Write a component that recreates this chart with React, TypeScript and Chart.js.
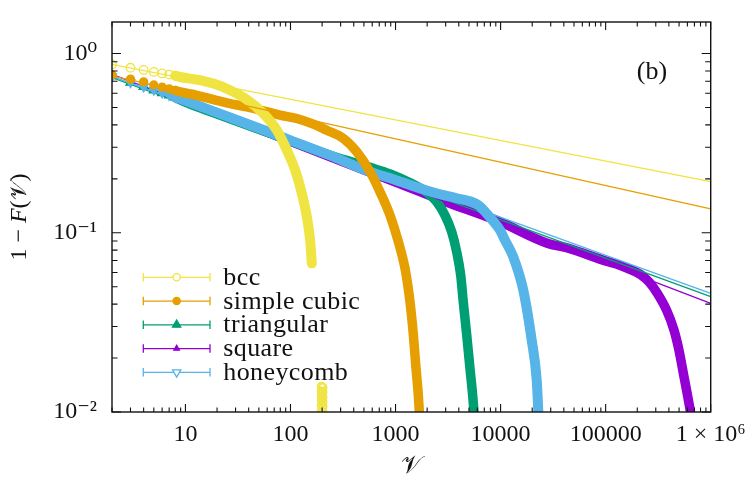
import React, { useEffect, useRef } from "react";
import { Chart, registerables } from "chart.js";
Chart.register(...registerables);

// ---------------- data ----------------
const seriesNames = ["bcc", "simple cubic", "triangular", "square", "honeycomb"];
const seriesColors = ["#f0e442", "#e69f00", "#009e73", "#9400d3", "#56b4e9"];

const bccV = [2, 3, 4, 5, 6, 7, 8, 8.9, 12.8, 18.5, 26.6, 38.4, 55.2, 74.1, 92.3, 110.7, 128.2, 143, 153.8, 159.6];
const bccP = [0.87, 0.833, 0.81, 0.79, 0.775, 0.763, 0.752, 0.74, 0.716, 0.68, 0.624, 0.554, 0.463, 0.3735, 0.289, 0.224, 0.166, 0.123, 0.091, 0.0675];
const bccTailV = [197, 197, 197, 197, 197, 197, 203, 203, 203, 203, 203, 203];
const bccTailP = [0.0139, 0.0131, 0.0123, 0.0116, 0.0109, 0.0102, 0.0137, 0.0129, 0.0121, 0.0114, 0.0107, 0.01];

const scV = [2, 3, 4, 5, 6, 7, 8, 8.9, 12.8, 18.5, 26.6, 38.4, 55.2, 79.6, 114.8, 165, 221, 319, 427, 572, 712, 887, 1064, 1232, 1374, 1477, 1567, 1648, 1684];
const scP = [0.76, 0.72, 0.695, 0.668, 0.65, 0.635, 0.622, 0.611, 0.585, 0.554, 0.526, 0.504, 0.479, 0.453, 0.434, 0.4035, 0.3735, 0.336, 0.283, 0.219, 0.169, 0.125, 0.089, 0.063, 0.041, 0.027, 0.0175, 0.0124, 0.01];

const triV = [2, 3, 4, 5, 6, 7, 8, 10, 20, 50, 100, 250, 572, 887, 1374, 1982, 2466, 2958, 3428, 3823, 4171, 4416, 4757, 5112, 5421, 5585];
const triP = [0.75, 0.69, 0.652, 0.625, 0.603, 0.585, 0.57, 0.535, 0.46, 0.378, 0.326, 0.268, 0.232, 0.213, 0.19, 0.168, 0.149, 0.125, 0.101, 0.078, 0.058, 0.041, 0.027, 0.0175, 0.0124, 0.01];

const sqV = [2, 3, 4, 5, 6, 7, 8, 10, 20, 50, 100, 300, 1000, 3000, 9890, 27800, 42600, 103500, 127000, 160000, 215000, 260000, 309000, 380000, 446000, 500000, 556000, 600000, 635000, 645000];
const sqP = [0.745, 0.685, 0.65, 0.622, 0.6, 0.583, 0.568, 0.54, 0.464, 0.38, 0.324, 0.252, 0.192, 0.149, 0.115, 0.0875, 0.0825, 0.0692, 0.067, 0.0635, 0.0585, 0.053, 0.0461, 0.037, 0.0288, 0.022, 0.0158, 0.0125, 0.0104, 0.0098];

const hcV = [2, 3, 4, 5, 6, 7, 8, 10, 20, 50, 100, 238, 494, 1026, 2128, 3000, 4416, 5117, 6200, 7380, 8500, 9880, 11000, 13190, 16440, 19770, 22060, 22850];
const hcP = [0.745, 0.69, 0.652, 0.626, 0.604, 0.586, 0.571, 0.545, 0.468, 0.383, 0.328, 0.27, 0.226, 0.196, 0.17, 0.161, 0.153, 0.15, 0.142, 0.128, 0.116, 0.1035, 0.091, 0.0734, 0.0479, 0.0252, 0.0151, 0.0102];

// power-law fits (end points at the left and right edges)
const fitV = [2, 1000000];
const bccFit = [0.87, 0.193];
const scFit = [0.75, 0.136];
const triFit = [0.735, 0.044];
const sqFit = [0.765, 0.0404];
const hcFit = [0.745, 0.0459];

const xTicks = [10, 100, 1000, 10000, 100000, 1000000];
const xTickLabels = ["10", "100", "1000", "10000", "100000", "1 × 10⁶"];
const yTicks = [0.01, 0.1, 1];
const yTickLabels = ["10⁻²", "10⁻¹", "10⁰"];
const panelLabel = "(b)";

// ---------------- styling ----------------
const SERIF = "'Liberation Serif', 'DejaVu Serif', serif";
const MATH = "'Liberation Serif', 'DejaVu Serif', 'DejaVu Sans', 'Noto Sans', serif";
const INK = "#111";

type Marker = { style: string; r: number; filled: boolean; rot: number; band: number; order: number };
const markers: Marker[] = [
  { style: "circle", r: 4.3, filled: false, rot: 0, band: 10, order: 1 },
  { style: "circle", r: 4.0, filled: true, rot: 0, band: 9.5, order: 2 },
  { style: "triangle", r: 5.2, filled: true, rot: 0, band: 9.5, order: 5 },
  { style: "triangle", r: 3.4, filled: true, rot: 0, band: 9.5, order: 6 },
  { style: "triangle", r: 5.2, filled: true, rot: 180, band: 10, order: 3 },
];
const fitOrder = [0, 0, 4.1, 4.2, 4.0];
const seriesV = [bccV, scV, triV, sqV, hcV];
const seriesP = [bccP, scP, triP, sqP, hcP];
const seriesFit = [bccFit, scFit, triFit, sqFit, hcFit];

const pts = (xs: number[], ys: number[]) => xs.map((x, i) => ({ x, y: ys[i] }));

function buildDatasets() {
  const ds: any[] = [];
  seriesNames.forEach((name, i) => {
    const m = markers[i];
    const c = seriesColors[i];
    const all = pts(seriesV[i], seriesP[i]);
    ds.push({
      label: name + " fit",
      data: pts(fitV, seriesFit[i]),
      borderColor: c,
      borderWidth: 1.3,
      pointRadius: 0,
      order: fitOrder[i],
      clip: 0,
    });
    ds.push({
      label: name,
      data: all.filter((p) => p.x >= 8),
      borderColor: c,
      borderWidth: m.band,
      borderCapStyle: "round",
      borderJoinStyle: "round",
      cubicInterpolationMode: "monotone",
      pointRadius: 0,
      order: m.order,
      clip: 0,
    });
    ds.push({
      label: name + " points",
      data: all.filter((p) => p.x <= 8),
      showLine: false,
      pointStyle: m.style,
      pointRadius: m.r,
      pointRotation: m.rot,
      pointBorderWidth: 1.3,
      pointBorderColor: c,
      pointBackgroundColor: m.filled ? c : "rgba(255,255,255,0)",
      order: m.order,
      clip: 0,
    });
  });
  ds.push({
    label: "bcc tail",
    data: pts(bccTailV, bccTailP),
    showLine: false,
    pointStyle: "circle",
    pointRadius: 3.8,
    pointBorderWidth: 1.8,
    pointBorderColor: seriesColors[0],
    pointBackgroundColor: "rgba(255,255,255,0)",
    order: 1,
    clip: 0,
  });
  return ds;
}

function markerPath(ctx: CanvasRenderingContext2D, style: string, x: number, y: number, r: number, rot: number) {
  ctx.beginPath();
  if (style === "circle") {
    ctx.arc(x, y, r, 0, Math.PI * 2);
  } else {
    let a = (rot * Math.PI) / 180;
    for (let k = 0; k < 3; k++) {
      const px = x + Math.sin(a) * r;
      const py = y - Math.cos(a) * r;
      if (k === 0) ctx.moveTo(px, py);
      else ctx.lineTo(px, py);
      a += (2 * Math.PI) / 3;
    }
    ctx.closePath();
  }
}

const framePlugin = {
  id: "frameTicks",
  afterDatasetsDraw(chart: any) {
    const { ctx, chartArea: a, scales } = chart;
    const xs = scales.x;
    const ys = scales.y;
    ctx.save();
    ctx.strokeStyle = INK;
    ctx.lineWidth = 1.1;
    ctx.beginPath();
    for (let e = 0; e <= 6; e++) {
      for (let k = 1; k <= 9; k++) {
        const v = k * Math.pow(10, e);
        if (v < 2 || v > 1000000) continue;
        const px = xs.getPixelForValue(v);
        const len = k === 1 ? 8 : 4.5;
        ctx.moveTo(px, a.bottom);
        ctx.lineTo(px, a.bottom - len);
        ctx.moveTo(px, a.top);
        ctx.lineTo(px, a.top + len);
      }
    }
    for (let e = -2; e <= 0; e++) {
      for (let k = 1; k <= 9; k++) {
        const v = k * Math.pow(10, e);
        if (v < 0.01 || v > 1.5) continue;
        const py = ys.getPixelForValue(v);
        const len = k === 1 ? 9 : 5.5;
        ctx.moveTo(a.left, py);
        ctx.lineTo(a.left + len, py);
        ctx.moveTo(a.right, py);
        ctx.lineTo(a.right - len, py);
      }
    }
    ctx.stroke();
    ctx.lineWidth = 1.4;
    ctx.strokeRect(a.left, a.top, a.right - a.left, a.bottom - a.top);

    // legend (gnuplot error-bar style samples)
    for (let i = 0; i < seriesNames.length; i++) {
      const y = a.top + 255.3 + i * 23.75;
      const x0 = a.left + 31.3;
      const x1 = a.left + 98;
      const xm = (x0 + x1) / 2;
      const c = seriesColors[i];
      const m = markers[i];
      ctx.strokeStyle = c;
      ctx.lineWidth = 1.3;
      ctx.beginPath();
      ctx.moveTo(x0, y);
      ctx.lineTo(x1, y);
      ctx.moveTo(x0, y - 4.3);
      ctx.lineTo(x0, y + 4.3);
      ctx.moveTo(x1, y - 4.3);
      ctx.lineTo(x1, y + 4.3);
      ctx.stroke();
      const lr = m.style === "circle" ? 3.6 : i === 3 ? 3.2 : 4.8;
      markerPath(ctx, m.style, xm, y, lr, m.rot);
      ctx.fillStyle = m.filled && i !== 4 ? c : "#fff";
      ctx.fill();
      ctx.stroke();
      ctx.fillStyle = INK;
      ctx.font = "26px " + SERIF;
      (ctx as any).letterSpacing = "0.4px";
      ctx.textAlign = "left";
      ctx.textBaseline = "alphabetic";
      ctx.fillText(seriesNames[i], a.left + 111.3, y + 7.6);
      (ctx as any).letterSpacing = "0px";
    }

    // panel label
    ctx.fillStyle = INK;
    ctx.font = "26px " + SERIF;
    ctx.textAlign = "center";
    ctx.textBaseline = "middle";
    ctx.fillText(panelLabel, a.right - 58.7, a.top + 50);

    // axis titles
    const xc = (a.left + a.right) / 2;
    ctx.font = "25px " + MATH;
    ctx.textAlign = "center";
    ctx.textBaseline = "middle";
    ctx.fillText("𝒱", xc, 466);

    const parts = [
      { t: "1 − ", f: "24px " + SERIF },
      { t: "F", f: "italic 24px " + SERIF },
      { t: "(", f: "24px " + SERIF },
      { t: "𝒱", f: "23px " + MATH },
      { t: ")", f: "24px " + SERIF },
    ];
    let total = 0;
    const widths = parts.map((p) => {
      ctx.font = p.f;
      const w = ctx.measureText(p.t).width;
      total += w;
      return w;
    });
    ctx.save();
    ctx.translate(20, (a.top + a.bottom) / 2);
    ctx.rotate(-Math.PI / 2);
    ctx.textAlign = "left";
    ctx.textBaseline = "middle";
    let cx = -total / 2;
    parts.forEach((p, k) => {
      ctx.font = p.f;
      ctx.fillText(p.t, cx, 0);
      cx += widths[k];
    });
    ctx.restore();
    ctx.restore();
  },
};

export default function App() {
  const ref = useRef<HTMLCanvasElement>(null);
  useEffect(() => {
    document.body.style.margin = "0";
    const canvas = ref.current!;
    const chart = new Chart(canvas, {
      type: "line",
      data: { datasets: buildDatasets() },
      options: {
        animation: false,
        responsive: false,
        maintainAspectRatio: false,
        layout: { padding: { top: 22, right: 37.3, left: 0, bottom: 0 } },
        plugins: { legend: { display: false }, tooltip: { enabled: false } },
        scales: {
          x: {
            type: "logarithmic",
            min: 2,
            max: 1000000,
            grid: { display: false, drawTicks: false },
            border: { display: false },
            afterBuildTicks: (s: any) => {
              s.ticks = xTicks.map((v) => ({ value: v }));
            },
            afterFit: (s: any) => {
              s.height = 74;
              s.paddingLeft = 0;
              s.paddingRight = 0;
            },
            ticks: {
              autoSkip: false,
              maxRotation: 0,
              minRotation: 0,
              padding: 8,
              color: INK,
              font: { family: SERIF, size: 24 },
              callback: (v: any) => xTickLabels[xTicks.indexOf(Number(v))] ?? "",
            },
          },
          y: {
            type: "logarithmic",
            min: 0.01,
            max: 1.5,
            grid: { display: false, drawTicks: false },
            border: { display: false },
            afterBuildTicks: (s: any) => {
              s.ticks = yTicks.map((v) => ({ value: v }));
            },
            afterFit: (s: any) => {
              s.width = 112;
              s.paddingTop = 0;
              s.paddingBottom = 0;
            },
            ticks: {
              autoSkip: false,
              padding: 15,
              color: INK,
              font: { family: SERIF, size: 24 },
              callback: (v: any) => {
                const i = yTicks.findIndex((t) => Math.abs(t - Number(v)) < 1e-9);
                return i >= 0 ? yTickLabels[i] : "";
              },
            },
          },
        },
      },
      plugins: [framePlugin],
    } as any);
    return () => chart.destroy();
  }, []);
  return (
    <canvas
      ref={ref}
      width={748}
      height={486}
      style={{ display: "block", width: "748px", height: "486px" }}
    />
  );
}
